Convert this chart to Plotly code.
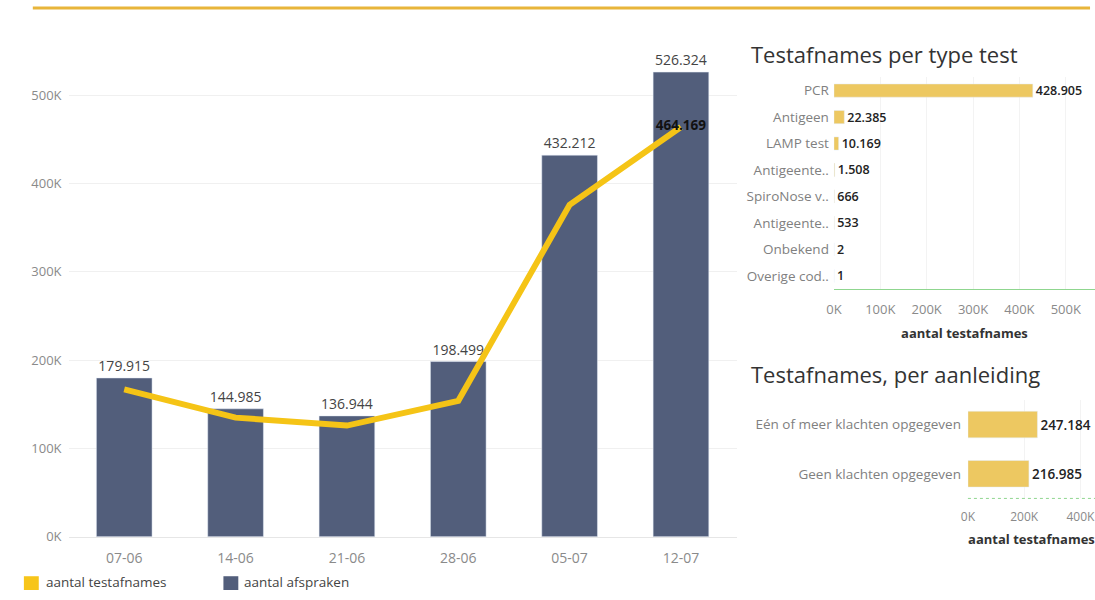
import plotly.graph_objects as go

# ---- data ----
weeks = ["07-06", "14-06", "21-06", "28-06", "05-07", "12-07"]
afspraken = [179915, 144985, 136944, 198499, 432212, 526324]
testafnames = [167000, 135000, 126000, 154000, 376000, 464169]

type_labels = ["PCR", "Antigeen", "LAMP test", "Antigeente..", "SpiroNose v..",
               "Antigeente..", "Onbekend", "Overige cod.."]
type_values = [428905, 22385, 10169, 1508, 666, 533, 2, 1]

reason_labels = ["Eén of meer klachten opgegeven", "Geen klachten opgegeven"]
reason_values = [247184, 216985]

main_ticks = [0, 100000, 200000, 300000, 400000, 500000]
main_ticktext = ["0K", "100K", "200K", "300K", "400K", "500K"]
type_ticks = [0, 100000, 200000, 300000, 400000, 500000]
type_ticktext = ["0K", "100K", "200K", "300K", "400K", "500K"]
reason_ticks = [0, 200000, 400000]
reason_ticktext = ["0K", "200K", "400K"]

BAR = "#525E7B"
LINE = "#F5C416"
GOLD = "#EDC861"
FONT = "Open Sans"

def W(px):
    return px / 1095

def H(py):
    return 1 - py / 600

fig = go.Figure()

fig.add_trace(go.Bar(
    x=weeks, y=afspraken, marker_color=BAR, width=0.5,
    texttemplate="%{y:,}", textposition="outside", constraintext="none",
    textfont=dict(size=14, color="#444"), cliponaxis=False,
    xaxis="x", yaxis="y", showlegend=False, hoverinfo="x+y"))

line_text = ["" for _ in testafnames[:-1]] + [f"{testafnames[-1]:,}".replace(",", ".")]
fig.add_trace(go.Scatter(
    x=weeks, y=testafnames, mode="lines+text", line=dict(color=LINE, width=6),
    text=line_text, textposition="middle center",
    textfont=dict(size=13.5, color="#111", family=FONT, weight="bold"),
    xaxis="x", yaxis="y", showlegend=False, cliponaxis=False))

fig.add_trace(go.Bar(
    y=list(range(len(type_labels))), x=type_values, orientation="h",
    marker_color=GOLD, width=0.5,
    texttemplate="%{x:,}", textposition="outside", constraintext="none",
    textfont=dict(size=12.5, color="#222", weight=600), cliponaxis=False,
    xaxis="x2", yaxis="y2", showlegend=False))

fig.add_trace(go.Bar(
    y=list(range(len(reason_labels))), x=reason_values, orientation="h",
    marker_color=GOLD, width=0.54,
    texttemplate="%{x:,}", textposition="outside", constraintext="none",
    textfont=dict(size=13.5, color="#222", weight=600), cliponaxis=False,
    xaxis="x3", yaxis="y3", showlegend=False))

grey_tick = dict(size=13, color="#8a8a8a", family=FONT)
cat_font = dict(size=13.5, color="#808080", family=FONT)

fig.update_layout(
    width=1095, height=600, margin=dict(l=0, r=0, t=0, b=0),
    paper_bgcolor="white", plot_bgcolor="white",
    separators=",.", font=dict(family=FONT),
    bargap=0.5,
    xaxis=dict(domain=[W(61), W(734)], type="category", showgrid=False,
               tickfont=dict(size=14, color="#8a8a8a", family=FONT),
               showline=True, linecolor="#e6e6e6",
               ticks="", anchor="y", ticklabelstandoff=8),
    yaxis=dict(domain=[H(545), H(43)], range=[0, 560000],
               tickvals=main_ticks, ticktext=main_ticktext, tickfont=grey_tick,
               gridcolor="#f0f0f0", zeroline=False, showline=False,
               ticklabelstandoff=6, anchor="x"),
    xaxis2=dict(domain=[W(832), 1.0], range=[0, 563000],
                tickvals=type_ticks, ticktext=type_ticktext, tickfont=grey_tick,
                gridcolor="#f3f3f3", zeroline=False, showline=True,
                linecolor="#8fd68f", linewidth=1, anchor="y2", ticklabelstandoff=8,
                title=dict(text="<b>aantal testafnames</b>",
                           font=dict(size=13, color="#333"), standoff=12)),
    yaxis2=dict(domain=[H(293.5), H(78.5)], range=[len(type_labels) - 0.5, -0.5],
                tickvals=list(range(len(type_labels))), ticktext=type_labels,
                tickfont=cat_font,
                showgrid=False, zeroline=False, anchor="x2", ticklabelstandoff=4),
    xaxis3=dict(domain=[W(967), 1.0], range=[0, 452000],
                tickvals=reason_ticks, ticktext=reason_ticktext,
                tickfont=dict(size=12, color="#8a8a8a", family=FONT),
                gridcolor="#f3f3f3", zeroline=False, showline=False, anchor="y3",
                ticklabelstandoff=10,
                title=dict(text="<b>aantal testafnames</b>",
                           font=dict(size=13, color="#333"), standoff=10)),
    yaxis3=dict(domain=[H(506), H(406)], range=[len(reason_labels) - 0.5, -0.5],
                tickvals=list(range(len(reason_labels))), ticktext=reason_labels,
                tickfont=cat_font,
                showgrid=False, zeroline=False, anchor="x3", ticklabelstandoff=6),
)

shapes = [
    dict(type="line", xref="paper", yref="paper", x0=W(25), x1=W(1090),
         y0=H(8), y1=H(8), line=dict(color="#E8B53A", width=3)),
    dict(type="line", xref="x3 domain", yref="y3 domain", x0=0, x1=1, y0=0, y1=0,
         line=dict(color="#8fd68f", width=1, dash="dot")),
    dict(type="rect", xref="paper", yref="paper", x0=W(16), x1=W(31),
         y0=H(599), y1=H(585), fillcolor="#F7C51A", line=dict(width=0)),
    dict(type="rect", xref="paper", yref="paper", x0=W(217), x1=W(232),
         y0=H(599), y1=H(585), fillcolor=BAR, line=dict(width=0)),
]
fig.update_layout(shapes=shapes)

annotations = [
    dict(text="Testafnames per type test", x=W(746), y=H(55), xref="paper", yref="paper",
         xanchor="left", yanchor="middle", showarrow=False,
         font=dict(size=22, color="#333", family=FONT)),
    dict(text="Testafnames, per aanleiding", x=W(746), y=H(380), xref="paper", yref="paper",
         xanchor="left", yanchor="middle", showarrow=False,
         font=dict(size=22, color="#333", family=FONT)),
    dict(text="aantal testafnames", x=W(36), y=H(591), xref="paper", yref="paper",
         xanchor="left", yanchor="middle", showarrow=False,
         font=dict(size=13.5, color="#444", family=FONT)),
    dict(text="aantal afspraken", x=W(236), y=H(591), xref="paper", yref="paper",
         xanchor="left", yanchor="middle", showarrow=False,
         font=dict(size=13.5, color="#444", family=FONT)),
]
fig.update_layout(annotations=annotations)

post = (
    "document.documentElement.style.margin='0';"
    "document.body.style.margin='0';document.body.style.padding='0';"
    "document.body.style.overflow='hidden';"
    "var d=document.getElementsByClassName('plotly-graph-div')[0];"
    "d.style.position='absolute';d.style.left='0px';d.style.top='0px';"
)
fig.write_html("out.html", config={"displayModeBar": False}, post_script=post)
